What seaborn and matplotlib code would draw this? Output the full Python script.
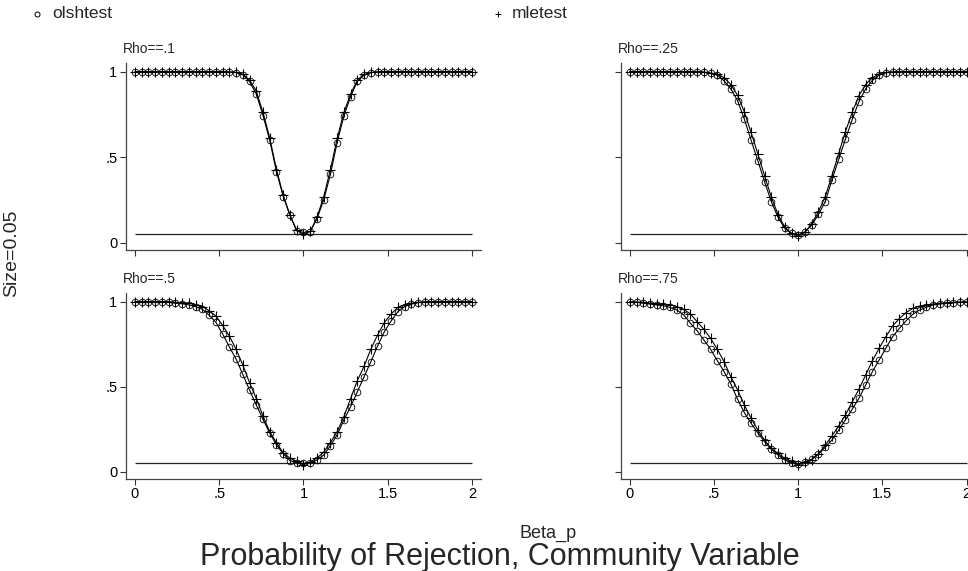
import matplotlib
matplotlib.use("Agg")
import matplotlib.pyplot as plt
from matplotlib.lines import Line2D
import pandas as pd
import seaborn as sns

# Slope coefficient grid (Beta_p)
beta = [0.00, 0.04, 0.08, 0.12, 0.16, 0.20, 0.24, 0.28, 0.32, 0.36,
        0.40, 0.44, 0.48, 0.52, 0.56, 0.60, 0.64, 0.68, 0.72, 0.76,
        0.80, 0.84, 0.88, 0.92, 0.96, 1.00, 1.04, 1.08, 1.12, 1.16,
        1.20, 1.24, 1.28, 1.32, 1.36, 1.40, 1.44, 1.48, 1.52, 1.56,
        1.60, 1.64, 1.68, 1.72, 1.76, 1.80, 1.84, 1.88, 1.92, 1.96, 2.00]

rho_labels = ["Rho==.1", "Rho==.25", "Rho==.5", "Rho==.75"]
size_level = 0.05

# Rejection rates, OLS-based test
ols_10 = [1.000, 1.000, 1.000, 1.000, 1.000, 1.000, 1.000, 1.000, 1.000, 1.000,
          1.000, 1.000, 1.000, 1.000, 0.998, 0.995, 0.982, 0.943, 0.870, 0.744,
          0.598, 0.416, 0.270, 0.160, 0.070, 0.060, 0.065, 0.139, 0.250, 0.400,
          0.586, 0.742, 0.855, 0.945, 0.980, 0.995, 0.999, 1.000, 1.000, 1.000,
          1.000, 1.000, 1.000, 1.000, 1.000, 1.000, 1.000, 1.000, 1.000, 1.000, 1.000]
ols_25 = [1.000, 1.000, 1.000, 1.000, 1.000, 1.000, 1.000, 1.000, 1.000, 1.000,
          1.000, 0.997, 0.990, 0.980, 0.947, 0.899, 0.830, 0.723, 0.600, 0.480,
          0.357, 0.240, 0.149, 0.084, 0.055, 0.045, 0.064, 0.103, 0.166, 0.240,
          0.367, 0.488, 0.606, 0.720, 0.825, 0.900, 0.950, 0.980, 0.994, 0.998,
          1.000, 1.000, 1.000, 1.000, 1.000, 1.000, 1.000, 1.000, 1.000, 1.000, 1.000]
ols_50 = [1.000, 1.000, 1.000, 1.000, 0.998, 0.995, 0.990, 0.987, 0.980, 0.970,
          0.954, 0.920, 0.878, 0.810, 0.734, 0.662, 0.572, 0.480, 0.392, 0.308,
          0.226, 0.157, 0.106, 0.065, 0.053, 0.049, 0.053, 0.068, 0.098, 0.153,
          0.216, 0.304, 0.382, 0.470, 0.558, 0.646, 0.739, 0.822, 0.885, 0.940,
          0.970, 0.985, 0.993, 0.997, 1.000, 1.000, 1.000, 1.000, 1.000, 1.000, 1.000]
ols_75 = [0.997, 0.996, 0.990, 0.985, 0.980, 0.975, 0.965, 0.950, 0.921, 0.872,
          0.828, 0.774, 0.719, 0.652, 0.588, 0.515, 0.425, 0.347, 0.284, 0.229,
          0.176, 0.132, 0.098, 0.069, 0.053, 0.045, 0.059, 0.073, 0.104, 0.143,
          0.186, 0.245, 0.304, 0.367, 0.431, 0.509, 0.588, 0.656, 0.725, 0.793,
          0.842, 0.887, 0.925, 0.950, 0.966, 0.980, 0.985, 0.990, 0.993, 0.995, 0.997]

# Rejection rates, ML-based test
mle_10 = [1.000, 1.000, 1.000, 1.000, 1.000, 1.000, 1.000, 1.000, 1.000, 1.000,
          1.000, 1.000, 1.000, 1.000, 0.999, 0.997, 0.986, 0.952, 0.888, 0.762,
          0.612, 0.428, 0.278, 0.162, 0.072, 0.050, 0.066, 0.148, 0.268, 0.428,
          0.610, 0.762, 0.870, 0.952, 0.984, 0.996, 0.999, 1.000, 1.000, 1.000,
          1.000, 1.000, 1.000, 1.000, 1.000, 1.000, 1.000, 1.000, 1.000, 1.000, 1.000]
mle_25 = [1.000, 1.000, 1.000, 1.000, 1.000, 1.000, 1.000, 1.000, 1.000, 1.000,
          1.000, 0.998, 0.993, 0.985, 0.965, 0.925, 0.862, 0.765, 0.645, 0.520,
          0.392, 0.268, 0.165, 0.092, 0.055, 0.038, 0.060, 0.112, 0.182, 0.270,
          0.392, 0.522, 0.650, 0.762, 0.860, 0.925, 0.965, 0.987, 0.996, 0.999,
          1.000, 1.000, 1.000, 1.000, 1.000, 1.000, 1.000, 1.000, 1.000, 1.000, 1.000]
mle_50 = [1.000, 1.000, 1.000, 1.000, 1.000, 1.000, 0.995, 0.993, 0.990, 0.980,
          0.970, 0.946, 0.915, 0.860, 0.797, 0.720, 0.627, 0.523, 0.430, 0.327,
          0.235, 0.170, 0.110, 0.080, 0.060, 0.040, 0.058, 0.080, 0.115, 0.171,
          0.235, 0.323, 0.430, 0.535, 0.620, 0.720, 0.803, 0.876, 0.926, 0.966,
          0.980, 0.990, 0.995, 0.998, 1.000, 1.000, 1.000, 1.000, 1.000, 1.000, 1.000]
mle_75 = [0.998, 0.997, 0.995, 0.992, 0.988, 0.985, 0.980, 0.970, 0.954, 0.927,
          0.881, 0.836, 0.783, 0.719, 0.646, 0.558, 0.480, 0.392, 0.314, 0.245,
          0.186, 0.137, 0.108, 0.078, 0.060, 0.040, 0.055, 0.070, 0.105, 0.155,
          0.210, 0.269, 0.333, 0.410, 0.484, 0.568, 0.652, 0.725, 0.793, 0.856,
          0.900, 0.935, 0.960, 0.973, 0.980, 0.985, 0.990, 0.993, 0.995, 0.997, 0.998]

x_ticks = [0, 0.5, 1, 1.5, 2]
x_ticklabels = ["0", ".5", "1", "1.5", "2"]
y_ticks = [0, 0.5, 1]
y_ticklabels = ["0", ".5", "1"]

ols_series = [ols_10, ols_25, ols_50, ols_75]
mle_series = [mle_10, mle_25, mle_50, mle_75]

frames = []
for lab, o, m in zip(rho_labels, ols_series, mle_series):
    frames.append(pd.DataFrame({"beta": beta, "power": o, "test": "olshtest", "rho": lab}))
    frames.append(pd.DataFrame({"beta": beta, "power": m, "test": "mletest", "rho": lab}))
df = pd.concat(frames, ignore_index=True)

sns.set_theme(style="ticks")
plt.rcParams["font.family"] = ["Liberation Sans", "DejaVu Sans"]

W, H = 968, 571
fig = plt.figure(figsize=(W / 100, H / 100), dpi=100)


def px_axes(left, top, width, height):
    return fig.add_axes([left / W, 1 - (top + height) / H, width / W, height / H])


xlim = (-0.055, 2.055)
ylim = (-0.043, 1.05)
panel_px = {
    "Rho==.1": (125.7, 63.2, 355.5, 186.9),
    "Rho==.25": (620.5, 63.2, 355.5, 186.9),
    "Rho==.5": (125.7, 293.0, 355.5, 186.0),
    "Rho==.75": (620.5, 293.0, 355.5, 186.0),
}

for idx, lab in enumerate(rho_labels):
    ax = px_axes(*panel_px[lab])
    sub = df[df["rho"] == lab]
    ax.hlines(size_level, beta[0], beta[-1], color="#222222", lw=0.9, zorder=1)
    o = sub[sub["test"] == "olshtest"]
    m = sub[sub["test"] == "mletest"]
    sns.lineplot(data=o, x="beta", y="power", ax=ax, color="black", lw=0.8,
                 marker="o", markersize=4.8, markerfacecolor="none",
                 markeredgecolor="black", markeredgewidth=0.6, errorbar=None,
                 zorder=3)
    sns.lineplot(data=m, x="beta", y="power", ax=ax, color="black", lw=0.8,
                 marker="+", markersize=6.5, markeredgecolor="black",
                 markeredgewidth=0.8, errorbar=None, zorder=3)
    ax.set_xlim(*xlim)
    ax.set_ylim(*ylim)
    ax.set_xlabel("")
    ax.set_ylabel("")
    ax.set_xticks(x_ticks)
    ax.set_yticks(y_ticks)
    bottom_row = idx >= 2
    left_col = idx % 2 == 0
    ax.set_xticklabels(x_ticklabels if bottom_row else [""] * len(x_ticks))
    ax.set_yticklabels(y_ticklabels if left_col else [""] * len(y_ticks))
    ax.tick_params(direction="out", length=4, width=0.8, color="#333333",
                   labelsize=10.5, pad=2, labelcolor="black")
    for s in ("top", "right"):
        ax.spines[s].set_visible(False)
    for s in ("left", "bottom"):
        ax.spines[s].set_color("#444444")
        ax.spines[s].set_linewidth(0.9)
    ax.patch.set_alpha(0)
    ax.text(-0.008, 1.055, lab, transform=ax.transAxes, ha="left",
            va="baseline", fontsize=10)

# Legend keys across the top
fig.add_artist(Line2D([37 / W], [1 - 14 / H], transform=fig.transFigure,
                      marker="o", markersize=3.6, markerfacecolor="none",
                      markeredgecolor="black", markeredgewidth=0.7, lw=0))
fig.text(52 / W, 1 - 14 / H, "olshtest", ha="left", va="center", fontsize=12.5)
fig.add_artist(Line2D([498 / W], [1 - 14 / H], transform=fig.transFigure,
                      marker="+", markersize=4.5, markeredgecolor="black",
                      markeredgewidth=0.7, lw=0))
fig.text(512 / W, 1 - 14 / H, "mletest", ha="left", va="center", fontsize=12.5)

fig.text(12 / W, 1 - 253 / H, "Size=0.05", rotation=90, ha="center",
         va="center", fontsize=14)
fig.text(548 / W, 1 - 538 / H, "Beta_p", ha="center", va="baseline", fontsize=13)
fig.text(500 / W, 1 - 565 / H, "Probability of Rejection, Community Variable",
         ha="center", va="baseline", fontsize=22)

fig.savefig("out.png", dpi=100, facecolor="white")
